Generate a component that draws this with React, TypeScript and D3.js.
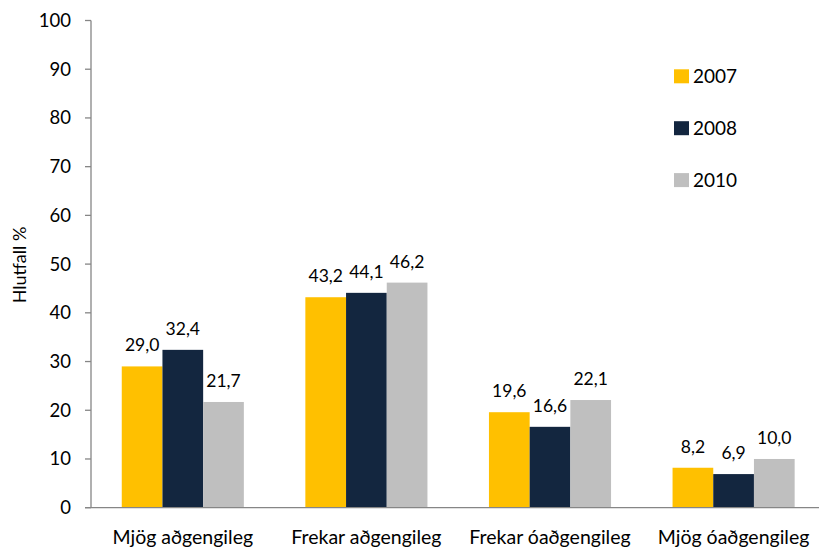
import React from "react";
import * as d3 from "d3";

const categories = ["Mjög aðgengileg", "Frekar aðgengileg", "Frekar óaðgengileg", "Mjög óaðgengileg"];
const seriesNames = ["2007", "2008", "2010"];
const values2007 = [29.0, 43.2, 19.6, 8.2];
const values2008 = [32.4, 44.1, 16.6, 6.9];
const values2010 = [21.7, 46.2, 22.1, 10.0];
const yTicks = [0, 10, 20, 30, 40, 50, 60, 70, 80, 90, 100];
const colors = ["#FFC000", "#13263F", "#BFBFBF"];

const W = 819;
const H = 550;
const FONT = "Lato, 'Open Sans', sans-serif";

export default function App() {
  const series = [values2007, values2008, values2010];
  const x0 = d3.scaleBand<string>().domain(categories).range([91, 825.4]).paddingInner(0.335).paddingOuter(0.1675);
  const x1 = d3.scaleBand<string>().domain(seriesNames).range([0, x0.bandwidth()]);
  const y = d3.scaleLinear().domain([0, 100]).range([507.7, 20.5]);
  const fmt = (v: number) => v.toFixed(1).replace(".", ",");

  return (
    <svg width={W} height={H} style={{ position: "absolute", left: 0, top: 0, background: "#fff" }} fontFamily={FONT}>
      {categories.map((c, ci) => (
        <g key={c} transform={`translate(${x0(c)},0)`}>
          {seriesNames.map((s, si) => {
            const v = series[si][ci];
            return (
              <g key={s}>
                <rect x={x1(s)} y={y(v)} width={x1.bandwidth()} height={y(0) - y(v)} fill={colors[si]} />
                <text x={(x1(s) as number) + x1.bandwidth() / 2} y={y(v) - 15} textAnchor="middle" fontSize={17.5} fill="#000">
                  {fmt(v)}
                </text>
              </g>
            );
          })}
          <text x={x0.bandwidth() / 2} y={544} textAnchor="middle" fontSize={19.5} fill="#000">
            {c}
          </text>
        </g>
      ))}
      <line x1={91} x2={91} y1={y(100)} y2={y(0)} stroke="#868686" strokeWidth={1.3} />
      {yTicks.map((t) => (
        <g key={t}>
          <line x1={85} x2={91} y1={y(t)} y2={y(t)} stroke="#868686" strokeWidth={1.3} />
          <text x={71} y={y(t)} dy="0.35em" textAnchor="end" fontSize={18.5} fill="#000">
            {t}
          </text>
        </g>
      ))}
      <line x1={85} x2={W} y1={y(0)} y2={y(0)} stroke="#868686" strokeWidth={1.3} />
      <text transform={`translate(26,265) rotate(-90)`} textAnchor="middle" fontSize={18} fill="#000">
        Hlutfall %
      </text>
      {seriesNames.map((s, si) => (
        <g key={s} transform={`translate(674,${69.3 + si * 51.9})`}>
          <rect x={0} y={0} width={15} height={14} fill={colors[si]} />
          <text x={19} y={13.5} fontSize={19} fill="#000">
            {s}
          </text>
        </g>
      ))}
    </svg>
  );
}
